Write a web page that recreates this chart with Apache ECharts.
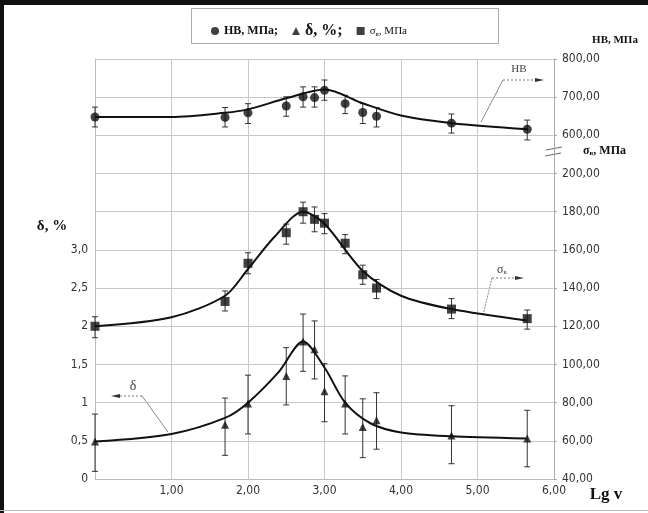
<!DOCTYPE html>
<html>
<head>
<meta charset="utf-8">
<script src="https://cdn.jsdelivr.net/npm/echarts@6/dist/echarts.min.js"></script>
<style>
  html, body { margin: 0; padding: 0; background: #fff; }
  #chart { width: 648px; height: 513px; }
</style>
</head>
<body>
<div id="chart"></div>
<script>
// lg v of the tests
var lgV = [0, 1.70, 2.00, 2.50, 2.72, 2.87, 3.00, 3.27, 3.50, 3.68, 4.66, 5.65];

// HB, MPa
var hbValues = [648, 647, 659, 677, 701, 699, 718, 683, 660, 650, 632, 616];
var hbLow = [622, 622, 631, 650, 674, 674, 692, 657, 631, 622, 606, 588];
var hbHigh = [674, 673, 683, 701, 727, 727, 745, 705, 683, 673, 656, 640];
var hbCurveX = [0, 1, 1.7, 2, 2.5, 3, 3.5, 4, 4.67, 5.66];
var hbCurveY = [648, 648, 659, 668, 697, 720, 684, 652, 632, 616];

// sigma_v, MPa
var sigValues = [120, 133, 153, 169, 180, 176, 174, 163.5, 147, 140, 129, 124];
var sigLow = [114, 128, 147.5, 163, 174, 169.5, 168.5, 158, 142, 134.5, 124, 118.5];
var sigHigh = [125, 138.5, 158.5, 173.5, 185, 182.5, 179, 168, 152, 144.5, 134.5, 128.5];
var sigCurveX = [0, 1, 1.7, 2, 2.35, 2.72, 3.0, 3.5, 4, 4.66, 5.64];
var sigCurveY = [120, 124.7, 136, 150, 167, 180, 173.7, 149, 136, 129, 123];

// delta, %
var dValues = [0.49, 0.71, 0.99, 1.35, 1.80, 1.70, 1.15, 0.99, 0.68, 0.77, 0.57, 0.53];
var dLow = [0.10, 0.31, 0.59, 0.97, 1.41, 1.31, 0.75, 0.59, 0.28, 0.39, 0.20, 0.16];
var dHigh = [0.85, 1.06, 1.36, 1.72, 2.16, 2.07, 1.51, 1.35, 1.05, 1.13, 0.96, 0.90];
var dCurveX = [0, 1, 1.7, 2, 2.4, 2.72, 3.0, 3.27, 3.6, 4, 4.66, 5.64];
var dCurveY = [0.49, 0.59, 0.80, 1.00, 1.40, 1.80, 1.46, 1.00, 0.73, 0.61, 0.56, 0.53];

// tick labels
var dTickLabels = ['0', '0,5', '1', '1,5', '2', '2,5', '3,0'];
var xTickLabels = ['', '1,00', '2,00', '3,00', '4,00', '5,00', '6,00'];

var labelFont = "'Liberation Sans Narrow', 'DejaVu Sans Condensed', 'Liberation Sans', sans-serif";
var serif = "'Liberation Serif', 'DejaVu Serif', serif";

function zip(xs, ys) {
    return xs.map(function (x, i) { return [x, ys[i]]; });
}
function bars(xs, lo, hi) {
    return xs.map(function (x, i) { return [x, lo[i], hi[i]]; });
}
function comma2(v) {
    return v.toFixed(2).replace('.', ',');
}

function errorBar(params, api) {
    var x = api.value(0);
    var p1 = api.coord([x, api.value(1)]);
    var p2 = api.coord([x, api.value(2)]);
    var w = 3;
    var st = { stroke: '#333', lineWidth: 1 };
    return {
        type: 'group',
        children: [
            { type: 'line', shape: { x1: p1[0], y1: p1[1], x2: p2[0], y2: p2[1] }, style: st },
            { type: 'line', shape: { x1: p1[0] - w, y1: p1[1], x2: p1[0] + w, y2: p1[1] }, style: st },
            { type: 'line', shape: { x1: p2[0] - w, y1: p2[1], x2: p2[0] + w, y2: p2[1] }, style: st }
        ]
    };
}

var curveStyle = { color: '#111', width: 2 };

var option = {
    animation: false,
    grid: { left: 95, right: 94, top: 59, bottom: 34 },
    legend: {
        data: ['HB', 'δ', 'σ'],
        left: 206,
        top: 18,
        itemWidth: 8,
        itemHeight: 8,
        itemGap: 14,
        formatter: function (name) {
            if (name === 'HB') return '{hb|HB, МПа;}';
            if (name === 'δ') return '{d|δ, %;}';
            return '{s|σ}{sub|в}{s|, МПа}';
        },
        textStyle: {
            color: '#111',
            rich: {
                hb: { fontFamily: serif, fontSize: 12, fontWeight: 'bold', padding: [0, 6, 0, 0] },
                d: { fontFamily: serif, fontSize: 16, fontWeight: 'bold', padding: [0, 30, 0, 0] },
                s: { fontFamily: serif, fontSize: 11 },
                sub: { fontFamily: serif, fontSize: 7, padding: [6, 0, 0, 0] }
            }
        }
    },
    xAxis: {
        type: 'value',
        min: 0,
        max: 6,
        interval: 1,
        axisLine: { lineStyle: { color: '#bbb' } },
        axisTick: { show: false },
        splitLine: { lineStyle: { color: '#c8c8c8' } },
        axisLabel: {
            margin: 6,
            fontFamily: labelFont,
            fontSize: 12,
            color: '#333',
            formatter: function (v) { return xTickLabels[Math.round(v)]; }
        }
    },
    yAxis: [
        {
            type: 'value',
            position: 'left',
            min: 0,
            max: 5.5,
            interval: 0.5,
            axisLine: { show: true, lineStyle: { color: '#bbb' } },
            axisTick: { show: false },
            splitLine: { lineStyle: { color: '#c8c8c8' } },
            axisLabel: {
                margin: 7,
                fontFamily: labelFont,
                fontSize: 12,
                color: '#333',
                formatter: function (v) {
                    var i = Math.round(v / 0.5);
                    return i < dTickLabels.length ? dTickLabels[i] : '';
                }
            }
        },
        {
            type: 'value',
            position: 'right',
            min: 40,
            max: 260,
            interval: 20,
            axisLine: { show: true, lineStyle: { color: '#aaa' } },
            axisTick: { show: true, length: 3, lineStyle: { color: '#aaa' } },
            splitLine: { show: false },
            axisLabel: {
                margin: 8,
                fontFamily: labelFont,
                fontSize: 12,
                color: '#333',
                formatter: function (v) { return v <= 200 ? comma2(v) : ''; }
            }
        },
        {
            type: 'value',
            position: 'right',
            min: -300,
            max: 800,
            interval: 100,
            axisLine: { show: false },
            axisTick: { show: false },
            splitLine: { show: false },
            axisLabel: {
                margin: 8,
                fontFamily: labelFont,
                fontSize: 12,
                color: '#333',
                formatter: function (v) { return v >= 600 ? comma2(v) : ''; }
            }
        }
    ],
    graphic: [
        // frame
        { type: 'rect', shape: { x: 0, y: 0, width: 648, height: 5 }, style: { fill: '#111' } },
        { type: 'rect', shape: { x: 0, y: 0, width: 4, height: 513 }, style: { fill: '#111' } },
        { type: 'line', shape: { x1: 0, y1: 510.5, x2: 648, y2: 510.5 }, style: { stroke: '#bbb', lineWidth: 1 } },
        // legend box
        { type: 'rect', shape: { x: 191.5, y: 8.5, width: 307, height: 35 }, style: { fill: 'none', stroke: '#aaa', lineWidth: 1 } },
        // axis names
        { type: 'text', x: 615, y: 40, style: { text: 'HB, МПа', font: 'bold 11px ' + serif, fill: '#111', align: 'center', verticalAlign: 'middle' } },
        { type: 'text', x: 583, y: 151, style: { text: '{s|σ}{sub|в}{s|, МПа}', fill: '#111', verticalAlign: 'middle',
            rich: { s: { font: 'bold 12px ' + serif }, sub: { font: 'bold 7px ' + serif, padding: [5, 0, 0, 0] } } } },
        { type: 'text', x: 52, y: 226, style: { text: 'δ, %', font: 'bold 15px ' + serif, fill: '#111', align: 'center', verticalAlign: 'middle' } },
        { type: 'text', x: 606, y: 495, style: { text: 'Lg v', font: 'bold 17px ' + serif, fill: '#111', align: 'center', verticalAlign: 'middle' } },
        // axis break
        { type: 'rect', shape: { x: 550, y: 149, width: 8, height: 6 }, style: { fill: '#fff' } },
        { type: 'line', shape: { x1: 546, y1: 150, x2: 562, y2: 147 }, style: { stroke: '#666', lineWidth: 1 } },
        { type: 'line', shape: { x1: 545, y1: 156, x2: 561, y2: 153 }, style: { stroke: '#666', lineWidth: 1 } },
        // HB callout
        { type: 'text', x: 519, y: 69, style: { text: 'HB', font: '11px ' + serif, fill: '#444', align: 'center', verticalAlign: 'middle' } },
        { type: 'line', shape: { x1: 503, y1: 80, x2: 536, y2: 80 }, style: { stroke: '#777', lineWidth: 1, lineDash: [2, 2] } },
        { type: 'polygon', shape: { points: [[544, 80], [535, 78], [535, 82]] }, style: { fill: '#333' } },
        { type: 'line', shape: { x1: 503, y1: 80, x2: 481, y2: 122 }, style: { stroke: '#888', lineWidth: 1 } },
        // sigma callout
        { type: 'text', x: 502, y: 270, style: { text: '{s|σ}{sub|в}', fill: '#444', verticalAlign: 'middle', align: 'center',
            rich: { s: { font: '12px ' + serif }, sub: { font: '7px ' + serif, padding: [5, 0, 0, 0] } } } },
        { type: 'line', shape: { x1: 492, y1: 278, x2: 516, y2: 278 }, style: { stroke: '#777', lineWidth: 1, lineDash: [2, 2] } },
        { type: 'polygon', shape: { points: [[524, 278], [515, 276], [515, 280]] }, style: { fill: '#333' } },
        { type: 'line', shape: { x1: 492, y1: 278, x2: 483, y2: 315 }, style: { stroke: '#888', lineWidth: 1, lineDash: [2, 1] } },
        // delta callout
        { type: 'text', x: 133, y: 386, style: { text: 'δ', font: '14px ' + serif, fill: '#444', align: 'center', verticalAlign: 'middle' } },
        { type: 'line', shape: { x1: 120, y1: 396, x2: 142, y2: 396 }, style: { stroke: '#777', lineWidth: 1, lineDash: [2, 2] } },
        { type: 'polygon', shape: { points: [[111, 396], [120, 394], [120, 398]] }, style: { fill: '#333' } },
        { type: 'line', shape: { x1: 142, y1: 396, x2: 168, y2: 432 }, style: { stroke: '#888', lineWidth: 1 } }
    ],
    series: [
        // HB
        { name: 'HB curve', type: 'line', yAxisIndex: 2, data: zip(hbCurveX, hbCurveY), smooth: 0.3,
          showSymbol: false, lineStyle: curveStyle, z: 3 },
        { name: 'HB err', type: 'custom', yAxisIndex: 2, data: bars(lgV, hbLow, hbHigh), renderItem: errorBar,
          encode: { x: 0, y: [1, 2] }, z: 2 },
        { name: 'HB', type: 'scatter', yAxisIndex: 2, data: zip(lgV, hbValues), symbol: 'circle', symbolSize: 9,
          itemStyle: { color: '#111' }, z: 4 },
        // sigma
        { name: 'σ curve', type: 'line', yAxisIndex: 1, data: zip(sigCurveX, sigCurveY), smooth: 0.3,
          showSymbol: false, lineStyle: curveStyle, z: 3 },
        { name: 'σ err', type: 'custom', yAxisIndex: 1, data: bars(lgV, sigLow, sigHigh), renderItem: errorBar,
          encode: { x: 0, y: [1, 2] }, z: 2 },
        { name: 'σ', type: 'scatter', yAxisIndex: 1, data: zip(lgV, sigValues), symbol: 'rect', symbolSize: 9,
          itemStyle: { color: '#111' }, z: 4 },
        // delta
        { name: 'δ curve', type: 'line', yAxisIndex: 0, data: zip(dCurveX, dCurveY), smooth: 0.3,
          showSymbol: false, lineStyle: curveStyle, z: 3 },
        { name: 'δ err', type: 'custom', yAxisIndex: 0, data: bars(lgV, dLow, dHigh), renderItem: errorBar,
          encode: { x: 0, y: [1, 2] }, z: 2 },
        { name: 'δ', type: 'scatter', yAxisIndex: 0, data: zip(lgV, dValues), symbol: 'triangle', symbolSize: 8,
          itemStyle: { color: '#111' }, z: 4 }
    ]
};

var chart = echarts.init(document.getElementById('chart'));
chart.setOption(option);
</script>
</body>
</html>
